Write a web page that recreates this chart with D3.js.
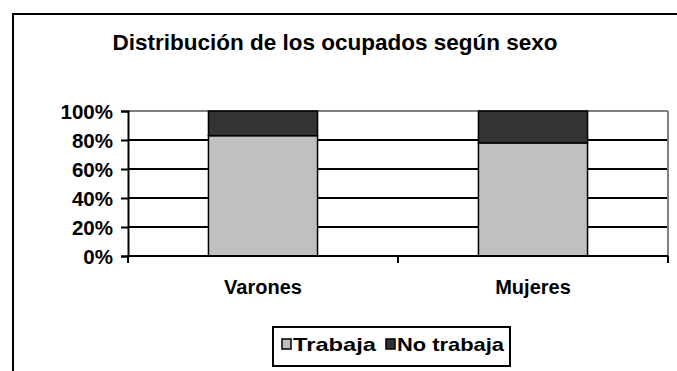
<!DOCTYPE html>
<html>
<head>
<meta charset="utf-8">
<script src="https://cdn.jsdelivr.net/npm/d3@7"></script>
<style>
  body{margin:0;background:#fff;}
  text{font-family:Arial,"Liberation Sans",sans-serif;font-weight:bold;fill:#000;}
</style>
</head>
<body>
<script>
// data
var categories=["Varones","Mujeres"]
var series=["Trabaja","No trabaja"]
var trabaja=[83,78]
var noTrabaja=[17,22]
var yTicks=[0,20,40,60,80,100]
var colors=["#c0c0c0","#333333"]

var W=677,H=371
var plot={left:128,right:668,top:111,bottom:256}

var rows=categories.map(function(c,i){return {cat:c,"Trabaja":trabaja[i],"No trabaja":noTrabaja[i]}})
var stacked=d3.stack().keys(series)(rows)

var svg=d3.select("body").append("svg")
          .attr("width",W)
          .attr("height",H)

// outer frame
svg.append("rect")
   .attr("x",13).attr("y",14)
   .attr("width",W).attr("height",H)
   .attr("fill","none").attr("stroke","#000").attr("stroke-width",2)

svg.append("text")
   .attr("x",335).attr("y",50)
   .attr("text-anchor","middle")
   .style("font-size","22.5px")
   .text("Distribución de los ocupados según sexo")

var xScale=d3.scaleBand()
   .domain(categories)
   .range([plot.left,plot.right])
   .paddingInner(0.596)
   .paddingOuter(0.298)
var yScale=d3.scaleLinear()
   .domain([0,100])
   .range([plot.bottom,plot.top])

// gridlines
svg.append("g").selectAll("line")
   .data(yTicks.filter(function(d){return d>0}))
   .enter().append("line")
   .attr("x1",plot.left).attr("x2",plot.right)
   .attr("y1",function(d){return yScale(d)})
   .attr("y2",function(d){return yScale(d)})
   .attr("stroke",function(d){return d==100?"#808080":"#000"})
   .attr("stroke-width",2)
// right edge of plot area
svg.append("line")
   .attr("x1",plot.right).attr("x2",plot.right)
   .attr("y1",plot.top).attr("y2",plot.bottom)
   .attr("stroke","#808080").attr("stroke-width",2)

// bars
svg.append("g").selectAll("g")
   .data(stacked)
   .enter().append("g")
   .attr("fill",function(d,i){return colors[i]})
   .selectAll("rect")
   .data(function(d){return d})
   .enter().append("rect")
   .attr("x",function(d){return xScale(d.data.cat)})
   .attr("width",xScale.bandwidth())
   .attr("y",function(d){return yScale(d[1])})
   .attr("height",function(d){return yScale(d[0])-yScale(d[1])})
   .attr("stroke","#000").attr("stroke-width",1.5)

// y axis
var yAxis=d3.axisLeft(yScale)
   .tickValues(yTicks)
   .tickSize(7)
   .tickPadding(8)
   .tickFormat(function(d){return d+"%"})
var gy=svg.append("g")
   .attr("transform","translate("+plot.left+",0)")
   .call(yAxis)
gy.select(".domain").attr("stroke","#000").attr("stroke-width",2)
gy.selectAll(".tick line").attr("stroke","#000").attr("stroke-width",2)
gy.selectAll(".tick text")
   .style("font-size","20.5px").style("font-family","Arial, 'Liberation Sans', sans-serif")
   .attr("fill","#000").attr("dy","0.35em")

// x axis with ticks between categories
var xAxisLine=svg.append("g")
xAxisLine.append("line")
   .attr("x1",plot.left).attr("x2",plot.right)
   .attr("y1",plot.bottom).attr("y2",plot.bottom)
   .attr("stroke","#000").attr("stroke-width",2)
var gap=(xScale.step()-xScale.bandwidth())/2
var xBounds=categories.map(function(c){return xScale(c)-gap}).concat([plot.right])
xAxisLine.selectAll("line.tk")
   .data(xBounds)
   .enter().append("line").attr("class","tk")
   .attr("x1",function(d){return d}).attr("x2",function(d){return d})
   .attr("y1",plot.bottom).attr("y2",plot.bottom+7)
   .attr("stroke","#000").attr("stroke-width",2)
svg.append("g").selectAll("text")
   .data(categories)
   .enter().append("text")
   .attr("x",function(d){return xScale(d)+xScale.bandwidth()/2})
   .attr("y",294)
   .attr("text-anchor","middle")
   .style("font-size","20px")
   .text(function(d){return d})

// legend
var legend=svg.append("g")
legend.append("rect")
   .attr("x",273).attr("y",327).attr("width",237).attr("height",39)
   .attr("fill","#fff").attr("stroke","#000").attr("stroke-width",2)
var legX=[282,386]
var legW=[83,107]
var items=legend.selectAll("g.item")
   .data(series)
   .enter().append("g").attr("class","item")
   .attr("transform",function(d,i){return "translate("+legX[i]+",339)"})
items.append("rect")
   .attr("width",9).attr("height",10)
   .attr("fill",function(d,i){return colors[i]})
   .attr("stroke","#000").attr("stroke-width",1.5)
items.append("text")
   .attr("x",11).attr("y",12)
   .attr("textLength",function(d,i){return legW[i]})
   .attr("lengthAdjust","spacingAndGlyphs")
   .style("font-size","19px")
   .text(function(d){return d})
</script>
</body>
</html>
